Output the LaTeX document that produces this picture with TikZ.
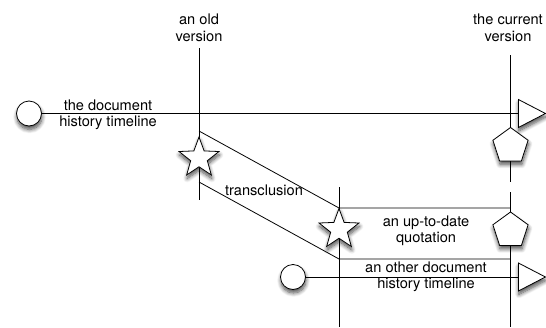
\documentclass[tikz,border=0pt]{standalone}
\usepackage{fontspec}
\setmainfont{TeX Gyre Heros}
\usetikzlibrary{shapes.geometric,shadows.blur,backgrounds}
\begin{document}
\begin{tikzpicture}[x=1pt,y=-1pt,
  ln/.style={line width=0.8pt},
  shp/.style={draw, fill=white, line width=0.8pt, inner sep=0pt,
    blur shadow={shadow xshift=0.5pt, shadow yshift=-3.5pt, shadow blur steps=8, shadow opacity=70, shadow blur radius=4pt}},
  startc/.style={shp, circle, minimum size=25pt},
  endtri/.style={shp, isosceles triangle, isosceles triangle stretches, minimum width=28pt, minimum height=27pt, anchor=west},
  penta/.style={shp, regular polygon, regular polygon sides=5, minimum size=37pt},
  stardot/.style={shp, star, star points=5, star point ratio=2.4, minimum size=42pt},
  lbl/.style={align=center, inner sep=0pt, font=\fontsize{14.6}{16.5}\selectfont}
]
\useasboundingbox (0,0) rectangle (546,327);

% shapes
\node[startc] (c1) at (29,113.5) {};
\node[endtri] (t1) at (518,113.5) {};
\node[penta] (p1) at (510.5,146) {};
\node[stardot] (s1) at (199,158) {};
\node[stardot] (s2) at (339,229.5) {};
\node[penta] (p2) at (510.5,230.5) {};
\node[startc] (c2) at (293,277) {};
\node[endtri] (t2) at (518,277) {};

% labels
\node[lbl] (lold) at (199,28) {an old\\version};
\node[lbl] (lcur) at (508,28) {the current\\version};
\node[lbl] (ldoc) at (108,115) {the document\\history timeline};
\node[lbl] (ltr) at (264,190) {transclusion};
\node[lbl] (lq) at (426,231) {an up-to-date\\quotation};
\node[lbl] (lod) at (426,277) {an other document\\history timeline};

% coordinates
\coordinate (ovtop) at (199,48);
\coordinate (ovbot) at (199,200);
\coordinate (cvtop) at (510.5,55);
\coordinate (cvmid) at (510.5,182);
\coordinate (cvlow) at (510.5,192);
\coordinate (cvbot) at (510.5,327);
\coordinate (qtop) at (339,187);
\coordinate (qbot) at (339,327);
\coordinate (d1a) at (199,131);
\coordinate (d1b) at (339,208);
\coordinate (d1c) at (510.5,208);
\coordinate (d2a) at (199,182);
\coordinate (d2b) at (339,259);
\coordinate (d2c) at (510.5,259);

\begin{scope}[on background layer]
\draw[ln] (c1) -- (t1);
\draw[ln] (c2) -- (t2);
\draw[ln] (ovtop) -- (ovbot);
\draw[ln] (cvtop) -- (cvmid);
\draw[ln] (cvlow) -- (cvbot);
\draw[ln] (qtop) -- (qbot);
\draw[ln] (d1a) -- (d1b) -- (d1c);
\draw[ln] (d2a) -- (d2b) -- (d2c);
\end{scope}
\end{tikzpicture}
\end{document}
